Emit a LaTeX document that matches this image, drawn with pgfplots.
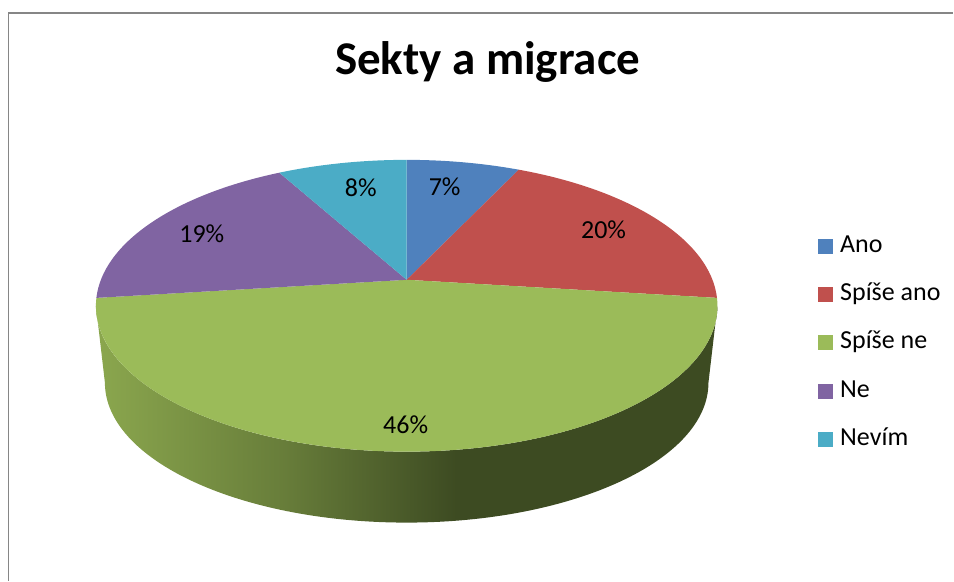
\documentclass[border=0pt]{standalone}
\usepackage{fontspec}
\setmainfont{Carlito}
\usepackage{pgfplots}
\usepackage{pgfplotstable}
\usetikzlibrary{calc}
\pgfplotsset{compat=1.18}

\definecolor{anoC}{HTML}{4F81BD}
\definecolor{spanoC}{HTML}{C0504D}
\definecolor{spneC}{HTML}{9BBB59}
\definecolor{neC}{HTML}{8064A2}
\definecolor{nevimC}{HTML}{4BACC6}
\definecolor{sideL}{HTML}{8BA74E}
\definecolor{sideD}{HTML}{3D4B22}
\definecolor{frameC}{HTML}{868686}

\pgfdeclarehorizontalshading{sideshade}{100bp}{color(0bp)=(sideL); color(25bp)=(sideL); color(40bp)=(sideL!55!sideD); color(54bp)=(sideD); color(100bp)=(sideD)}

% answer, percent, colour, label position (pixels from top left)
\pgfplotstableread[col sep=comma]{
name,value,col,lx,ly
Ano,7,anoC,445,187
Spíše ano,20,spanoC,604,230
Spíše ne,46,spneC,406,425
Ne,19,neC,202,234
Nevím,8,nevimC,361,188
}\datatable

% pie geometry (bp, picture 954 x 581)
\def\cx{407}   % centre x
\def\ay{301}   % apex (disk centre) y
\def\cy{275}   % top ellipse centre y
\def\rx{311}
\def\ry{146}
\def\kk{0.178} % perspective
\def\aa{141.4}
\def\bb{306}
\def\off{26}

% angle on the disk -> parameter angle on the drawn ellipse
\newcommand\projang[2]{%
  \pgfmathsetmacro\pjden{1+\kk*sin(#1)}%
  \pgfmathsetmacro\pjx{\bb*cos(#1)/\pjden/\rx}%
  \pgfmathsetmacro\pjy{(\aa*sin(#1)/\pjden+\off)/\ry}%
  \pgfmathsetmacro#2{atan2(\pjy,\pjx)}%
}

\begin{document}
\begin{tikzpicture}
\begin{axis}[
    x=1bp, y=1bp,
    xmin=0, xmax=954, ymin=0, ymax=581,
    hide axis, clip=false,
    legend cell align=left,
    legend image code/.code={\fill[#1] (0bp,-7.5bp) rectangle (15bp,7.5bp);},
    legend style={draw=none, fill=none, anchor=north west, at={(0.855,0.600)},
        row sep=24.3bp,
        nodes={inner sep=0pt, text height=18bp, text depth=6bp,
               font=\fontsize{26bp}{31bp}\selectfont},
        /tikz/every odd column/.append style={column sep=7bp}},
]
\pgfplotsextra{
  \path (axis cs:0,0) rectangle (axis cs:954,581);
  \draw[frameC, line width=1.5bp] (axis cs:8.5,0) -- (axis cs:8.5,568) -- (axis cs:954,568);
  \node[anchor=base, font=\bfseries\fontsize{47bp}{56bp}\selectfont]
      at (axis cs:488,506) {Sekty a migrace};
  % side of the disk
  \shade[shading=sideshade]
      (axis cs:96,\cy) arc[start angle=180, end angle=360, x radius=311bp, y radius=146bp]
      -- (axis cs:709,198) arc[start angle=0, end angle=-180, x radius=302bp, y radius=140bp]
      -- cycle;
  % top face slices
  \gdef\cum{0}
  \pgfplotstablegetrowsof{\datatable}
  \pgfmathtruncatemacro\nrows{\pgfplotsretval-1}
  \foreach \i in {0,...,\nrows}{
    \pgfplotstablegetelem{\i}{value}\of\datatable \let\v\pgfplotsretval
    \pgfplotstablegetelem{\i}{col}\of\datatable \let\c\pgfplotsretval
    \pgfmathsetmacro\thA{90-3.6*\cum}
    \pgfmathsetmacro\thB{90-3.6*(\cum+\v)}
    \projang{\thA}{\tA}
    \projang{\thB}{\tB}
    \pgfmathsetmacro\tB{\tB>\tA ? \tB-360 : \tB}
    \fill[\c] (axis cs:\cx,\ay) -- ($(axis cs:\cx,\cy)+(\tA:311bp and 146bp)$)
        arc[start angle=\tA, end angle=\tB, x radius=311bp, y radius=146bp] -- cycle;
    \pgfmathsetmacro\newcum{\cum+\v}
    \global\let\cum\newcum
  }
  % data labels
  \foreach \i in {0,...,\nrows}{
    \pgfplotstablegetelem{\i}{value}\of\datatable \let\v\pgfplotsretval
    \pgfplotstablegetelem{\i}{lx}\of\datatable \let\lx\pgfplotsretval
    \pgfplotstablegetelem{\i}{ly}\of\datatable \let\ly\pgfplotsretval
    \node[font=\fontsize{26bp}{31bp}\selectfont, inner sep=0pt]
        at (axis cs:\lx,{581-\ly}) {\v\%};
  }
}
\addlegendimage{fill=anoC, draw=none}
\addlegendentry{Ano}
\addlegendimage{fill=spanoC, draw=none}
\addlegendentry{Spíše ano}
\addlegendimage{fill=spneC, draw=none}
\addlegendentry{Spíše ne}
\addlegendimage{fill=neC, draw=none}
\addlegendentry{Ne}
\addlegendimage{fill=nevimC, draw=none}
\addlegendentry{Nevím}
\end{axis}
\end{tikzpicture}
\end{document}
